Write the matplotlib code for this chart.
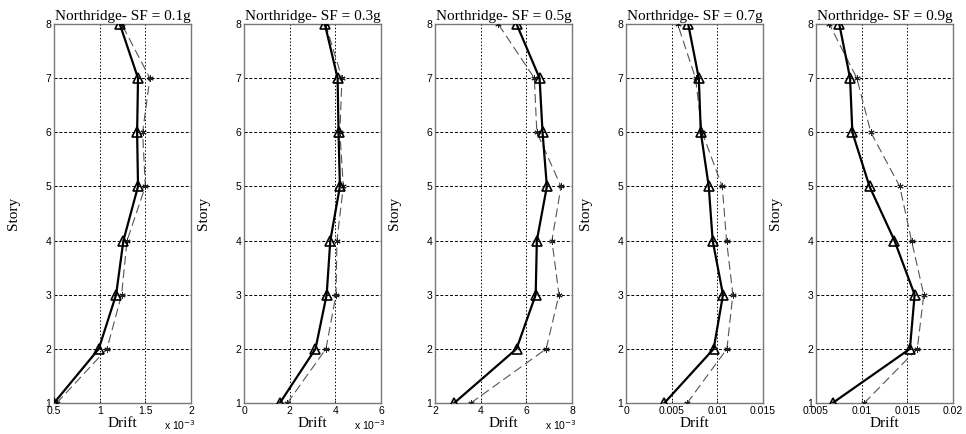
import matplotlib
matplotlib.use("Agg")
import matplotlib.pyplot as plt
from matplotlib.ticker import FixedLocator, FixedFormatter

stories = [1, 2, 3, 4, 5, 6, 7, 8]
titles = ["Northridge- SF = 0.1g", "Northridge- SF = 0.3g", "Northridge- SF = 0.5g",
          "Northridge- SF = 0.7g", "Northridge- SF = 0.9g"]

# solid (triangle) series, story 1..8
solid_01 = [0.50, 0.99, 1.18, 1.26, 1.42, 1.41, 1.42, 1.22]          # x 1e-3
solid_03 = [1.57, 3.13, 3.62, 3.78, 4.20, 4.14, 4.10, 3.54]          # x 1e-3
solid_05 = [2.84, 5.57, 6.41, 6.46, 6.90, 6.71, 6.58, 5.57]          # x 1e-3
solid_07 = [0.0042, 0.0096, 0.01062, 0.00949, 0.00906, 0.00819, 0.00797, 0.00681]
solid_09 = [0.00682, 0.01528, 0.0158, 0.01359, 0.01086, 0.00898, 0.00873, 0.00755]

# dashed (star) series
dash_01 = [0.53, 1.08, 1.24, 1.30, 1.50, 1.47, 1.55, 1.24]
dash_03 = [1.90, 3.59, 4.03, 4.07, 4.35, 4.20, 4.29, 3.57]
dash_05 = [3.57, 6.87, 7.43, 7.12, 7.52, 6.46, 6.35, 4.77]
dash_07 = [0.0067, 0.01105, 0.01170, 0.01101, 0.01054, 0.00833, 0.00761, 0.00565]
dash_09 = [0.01028, 0.01609, 0.0168, 0.01546, 0.01417, 0.0110, 0.00947, 0.00645]

xticks_01 = [0.5, 1, 1.5, 2]
xticks_03 = [0, 2, 4, 6]
xticks_05 = [2, 4, 6, 8]
xticks_07 = [0, 0.005, 0.01, 0.015]
xticks_09 = [0.005, 0.01, 0.015, 0.02]
xlabels_01 = ["0.5", "1", "1.5", "2"]
xlabels_03 = ["0", "2", "4", "6"]
xlabels_05 = ["2", "4", "6", "8"]
xlabels_07 = ["0", "0.005", "0.01", "0.015"]
xlabels_09 = ["0.005", "0.01", "0.015", "0.02"]
scaled = [True, True, True, False, False]

solids = [solid_01, solid_03, solid_05, solid_07, solid_09]
dashes = [dash_01, dash_03, dash_05, dash_07, dash_09]
xticks = [xticks_01, xticks_03, xticks_05, xticks_07, xticks_09]
xlabels = [xlabels_01, xlabels_03, xlabels_05, xlabels_07, xlabels_09]

serif = ["Liberation Serif", "DejaVu Serif"]
sans = ["Liberation Sans", "DejaVu Sans"]

fig = plt.figure(figsize=(9.66, 4.34), dpi=100)
lefts_px = [54, 244, 435, 626, 816]
W, H = 966.0, 434.0
for i in range(5):
    ax = fig.add_axes([lefts_px[i] / W, 1 - 403 / H, 137 / W, 379 / H])
    ax.plot(dashes[i], stories, color="#555555", lw=0.8, ls=(0, (8, 4)),
            marker=(6, 2, 0), ms=4.5, mew=0.7, mec="#222222", zorder=3)
    ax.plot(solids[i], stories, color="black", lw=1.6, marker="^", ms=7,
            mfc="none", mec="black", mew=1.2, zorder=4)
    ax.set_xlim(xticks[i][0], xticks[i][-1])
    ax.set_ylim(1, 8)
    ax.xaxis.set_major_locator(FixedLocator(xticks[i]))
    ax.xaxis.set_major_formatter(FixedFormatter(xlabels[i]))
    ax.set_yticks(stories)
    ax.set_yticklabels([str(s) for s in stories])
    ax.tick_params(direction="in", length=2, width=0.5, labelsize=7.5, pad=2,
                   colors="black")
    for lab in ax.get_xticklabels() + ax.get_yticklabels():
        lab.set_family(sans)
    ax.xaxis.grid(True, color="black", ls=(0, (1.5, 2)), lw=0.7)
    ax.yaxis.grid(True, color="black", ls=(0, (3, 2)), lw=0.7)
    ax.set_axisbelow(True)
    for sp in ax.spines.values():
        sp.set_color("#777777")
        sp.set_linewidth(1.0)
    ax.set_title(titles[i], family=serif, fontsize=11, pad=3)
    ax.set_xlabel("Drift", family=serif, fontsize=11, labelpad=1)
    ax.set_ylabel("Story", family=serif, fontsize=11, labelpad=18)
    if scaled[i]:
        ax.text(0.8, -0.058, r"x 10$^{-3}$", transform=ax.transAxes,
                fontsize=7.5, family=sans, va="center", ha="left")

fig.savefig("out.png", dpi=100)
